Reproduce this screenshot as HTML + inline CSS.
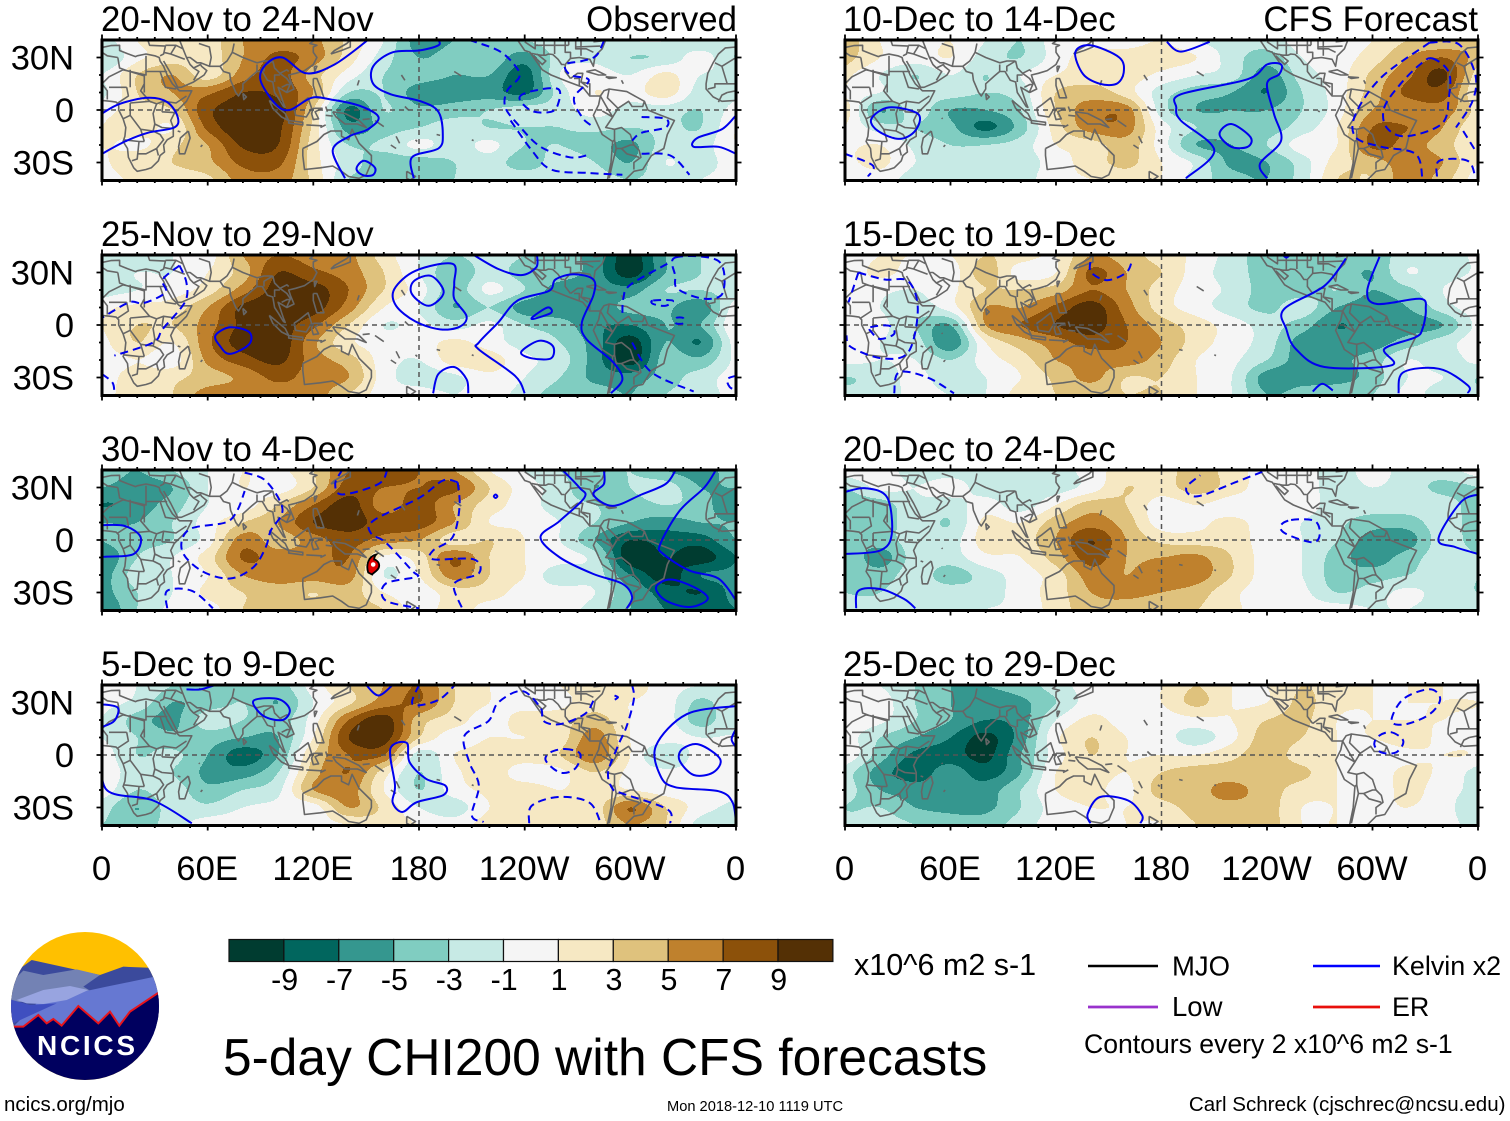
<!DOCTYPE html>
<html lang="en"><head><meta charset="utf-8"><title>5-day CHI200 with CFS forecasts</title>
<style>
html,body{margin:0;padding:0;background:#fff}
svg{display:block}
text{font-family:"Liberation Sans",Arial,sans-serif;fill:#000}
</style></head>
<body>
<svg id="figure" xmlns="http://www.w3.org/2000/svg" width="1510" height="1121" viewBox="0 0 1510 1121">
<rect width="1510" height="1121" fill="#fff"/>
<g id="maps"></g>
<g id="colorbar"></g>
<text x="854" y="975" font-size="30.5">x10^6 m2 s-1</text>
<text x="223" y="1075" font-size="51.5">5-day CHI200 with CFS forecasts</text>
<g>
<line x1="1088" x2="1158" y1="966" y2="966" stroke="#000" stroke-width="2.5"/>
<text x="1172" y="975.5" font-size="27.5">MJO</text>
<line x1="1313" x2="1380" y1="966" y2="966" stroke="#0000ff" stroke-width="2.5"/>
<text x="1392" y="975" font-size="26.9">Kelvin x2</text>
<line x1="1088" x2="1158" y1="1007" y2="1007" stroke="#9932cc" stroke-width="2.8"/>
<text x="1172" y="1016" font-size="27.5">Low</text>
<line x1="1313" x2="1380" y1="1007" y2="1007" stroke="#e8100c" stroke-width="2.8"/>
<text x="1392" y="1016" font-size="26.9">ER</text>
<text x="1084" y="1053" font-size="26.6">Contours every 2 x10^6 m2 s-1</text>
</g>
<g>
<clipPath id="logo-clip"><circle cx="85" cy="1006" r="74"/></clipPath>
<g clip-path="url(#logo-clip)">
<rect x="10" y="931" width="150" height="150" fill="#ffc000"/>
<g transform="translate(0,920) scale(0.3333)">
<polygon points="20,175 95,120 300,165 370,140 490,145 490,400 20,400" fill="#3b4a9c"/>
<polygon points="20,200 70,152 130,165 230,148 300,165 250,200 270,212 120,240 20,250" fill="#7382b4"/>
<polygon points="40,320 120,240 250,215 320,200 465,170 490,230 490,400 40,400" fill="#6678d2"/>
<polygon points="50,240 130,210 210,198 265,210 200,240 130,252 80,250" fill="#98a4e0"/>
<polygon points="20,235 90,255 170,250 50,305 20,320" fill="#3f4fc0"/>
<polygon points="30,320 70,320 115,285 140,310 160,297 185,317 235,258 295,310 330,275 358,317 390,275 480,215 490,500 20,500" fill="#00005f"/>
<polyline points="30,320 70,320 115,285 140,310 160,297 185,317 235,258 295,310 330,275 358,317 390,275 480,215" fill="none" stroke="#e8141c" stroke-width="6"/>
</g>
<text x="37" y="1055" font-size="28" font-weight="700" textLength="98" lengthAdjust="spacing" style="fill:#fff">NCICS</text>
</g>
</g>
<text x="4" y="1111" font-size="20.5">ncics.org/mjo</text>
<text x="667" y="1111" font-size="14.65">Mon 2018-12-10 1119 UTC</text>
<text x="1505.5" y="1111" font-size="20.55" text-anchor="end">Carl Schreck (cjschrec@ncsu.edu)</text>
</svg>
<script>
// ---- axis and colour data ----
const fieldLons=[0,20,40,60,80,100,120,140,160,180,200,220,240,260,280,300,320,340];
const fieldLats=[40,30,20,10,0,-10,-20,-30,-40];
const levelEdges=[-9,-7,-5,-3,-1,1,3,5,7,9];
const levelColors=['#003c30','#01665e','#35978f','#80cdc1','#c7eae5','#f5f5f5','#f6e8c3','#dfc27d','#bf812d','#8c510a','#543005'];
const lonTickValues=[0,60,120,180,240,300,360];
const lonTickLabels=['0','60E','120E','180','120W','60W','0'];
const latTickValues=[30,0,-30];
const latTickLabels=['30N','0','30S'];

// ---- CHI200 anomaly, rows = fieldLats, columns = fieldLons ----
const chiNov20=[
[-2,1,2,2,5,6,5.5,2.5,-1,-6,-5,-4,-3,-2,-2,-1,-1,-3],
[-3,.5,2,2,5,7.5,6,2,-2,-5,-4,-3.5,-6,-2,-1.5,-3,-2.5,0],
[-1,3,5,2,6,8,4,0,-3,-4,-5,-5,-8,-1,0,-1,1.5,-1],
[-1.5,3,5,6.5,9,8.5,5,-3,-3,-6,-6,-6,-7.5,-2,1,0,2,-2],
[0,2,3,8.5,10,10,3,-7.5,-3,-4.5,-4,-3,-2,-2,0,-2,-2,-3],
[1,2,1,7.5,10.5,9.5,2.5,-6,-4,-3,-2,-3,-3,-3,-2.5,-3,-2.5,-3],
[1,.5,2.5,5,9.3,9,2,-3,-2.5,-.5,-2,-.5,-3,-3,-4,-5.5,-2,-2],
[.5,2.5,3,4.5,7.5,7.5,2,-2,-4,-4,-3,-2,-4,-2,-3,-5,-1,-2],
[0,1.5,2,2.5,6,6,2.5,-3,-3,-4,-3,-2,-1.5,-2,-2,-3,-2,-1]];
const chiNov25=[
[-2,-3,-1,0,5,7,6,5.5,2,-1,-3,-2,-3,-4,-6,-10,-5,-3],
[-2.5,-1,-1,1,4,9,7.5,6,3,-1,-4.5,-2,-4,-4,-6,-10,-5,-3],
[-2,-1,0,2,6,10,10,7,3,0,-4,-.5,-3,-6,-6,-6,-3,-3],
[0,1.5,2,5,9.5,10.5,10,6,1,-1,-5,-3,-6,-6.5,-6,-4.5,-4.5,-6.5],
[1,3,3,6,9.5,10,7.5,3,-1,-.5,-2,-.5,-3,-4,-6.5,-7,-5,-5],
[0,3,1,6.5,10,10.5,5.5,1.5,0,0,1.5,0,-2,-3,-6,-10,-5,-7],
[-.5,1,0,5.5,8,9.5,6,4,0,-1,2,2,-.5,-2,-6,-10,-4,-4.5],
[0,2,2.5,4,5.5,7.5,6,5,0,-2,-1.5,.5,-1,-3,-5.5,-6,-4,-2],
[0,2.5,3,6,6,6,6,3,0,0,-1,0,-2,-4,-4,-5,-3,-2]];
const chiNov30=[
[-4,-5,-3,-1,1,.5,3,7,8,7,5,1,-1,-3,-4,-3,-5,-6],
[-5,-6,-5,-1,1,0,3,8,7,7,7.5,3,0,-2,-5,-3,-2,-5],
[-7,-6,-4,-1,0,3,7,10,6,8,5,2,0,-2,-3,-4,-3,-4],
[-5,-5,-3,0,3,5,9,10,8,8,5,1,.5,-1,-3,-5,-6,-5],
[-5,-4,-3,0,6,4,6,8,6,5,2,3,1,-1,-5,-9,-8,-8],
[-7,-3,-1,2,7.2,6,6,7,.5,2,7,3,1,0,-2,-10.5,-9,-10],
[-6,-2,-1,1,5,6,6,6,-1,1,6,3,1,-2.5,-2,-7,-10,-7],
[-6,-3,-1,1.5,3,4,3,4,1,0,2,2,0,0,-1,-5,-8,-9],
[-7,-3,-.5,0,3,4,4,4,3,0,2,0,0,0,-2,-5,-7,-7]];
const chiDec05=[
[-1,-1,-3,-4,-4,-4,0,3,5,7,3,1,0,1,2,2,0,-1],
[-1,-1.5,-5,-4,-3,-5,-1,2.5,6,7,3,1,0,.5,2,1,0,-3.5],
[-1,-4,-5.5,-2,-3,-4,0,7,10,4,2,0,2,2,4,1,0,-4],
[-1,-3,-4.5,-4,-5,-5,1,9,10,3,0,1,1,2,6,1,0,-1],
[0,-3,-2.5,-5,-8,-5,3,7,7,-2,1,2,2,3,6.5,1,-3,0],
[0,-2,-3,-5.5,-6,-3,4,7,2,-3,.5,2,0,.5,3,.5,-.5,0],
[0,-3,-2,-4.5,-3,-1.5,5,6,1,-3,0,1.5,2,1,2,1,0,0],
[-2,-5,-2,-2.5,-1,-.5,0,5,2.5,-1,-2,1,2,2,2,7,3,0],
[-3,-4,-2,0,0,-.5,0,1,2,1,0,2,2,1,2,5,3,-2]];
const chiDec10=[
[4,1,0,1,-1,-3,0,0,0,1,-1,-2,-2,0,0,1,3,3],
[4,1,0,1,-2,-3,0,2,2,2,1,-2,-4,-1,0,2,5,7],
[2,-1,-3,-1,-3,-1,1,2,2,.5,-1,-2,-6,-2,0,3.5,6.5,9.5],
[1,-1,-2,-2,-3,-2,3,4,2,-2,-4,-5,-7,-3,0,4,7.5,8],
[2,-5,-2,-5,-5,-3,3,6,6,-2,-5,-5,-5,-3,0,5,5.5,6],
[1,-2,-3,-4.5,-7.5,-4,2,6,6,0,-3,-4,-4,-2,1,7,7,5],
[1,1,-1.5,-3,-3,-2,1,2,4,0,-5,-5,-3,0,1,7.5,6,4],
[1,1.5,-1,-2,-2,-2,0,2,3.5,1,-1.5,-5.5,-5,-2,2,4,6,5],
[0,0,-2,-2,-2,-2,.5,1,2,1,-2,-4,-5,-2,3,3,6,4]];
const chiDec15=[
[-.5,1,1,1,3,2,1,5,4,2,.5,-2,-4,-4,-3,-4,-2,-2],
[-.5,1.5,0,0,4,0,1,7.5,5,3,0,-2,-4,-5,-4,-5,-1,-2],
[1,-.5,-1,.5,3,3,4,7,5,2,0,-1.5,-4,-4,-3,-5,-3.5,-1],
[0,-1,-2,0,5,5,7.5,10,6,2,0,-2,-3.5,-2,-5,-6,-5,-2],
[-.5,-.5,-3,-5,5,7,9,10,7,4,2,0,-2,-4,-7,-6,-6,-5],
[0,-1,-2,-6.5,1,4,6,8,7,5,2,0,-2,-6,-6,-6,-4,-2],
[-.5,-1,-1,-3,0,2,5,5.5,6,4,1,-.5,-3,-6,-5.5,-4,-1,-2],
[-3,-2,-.5,-2,-1,1,3.5,5.5,3,3,1,-1,-6,-6,-6,-4,-1,-1],
[-2.5,-2,-.5,-1,-1,2,3,3.5,3,3,1,-1,-5,-4,-3,-3,-.5,-2]];
const chiDec20=[
[0,0,-2,-2,-2,-2,-2,0,2,2,4,2,0,0,-2,0,-2,-2],
[-3,-.5,-1,0,-2,-2,-2,0,3,2,4,2,0,0,-2,-1,-2,-3.5],
[-4,-4,-1.5,-2,0,-2,1,4,3,0,1,0,0,0,-2,-2,-2,-2],
[-4,-4,-2,-3,1.5,1,4,6,4,0,.5,1.5,0,-1,-2.5,-4,-4,-2],
[-4,-4,-2,-2,2,2,5,9,5,2.5,2,2,0,-1,-3,-6,-6,-2],
[-3,-6,-2,-2,.5,1,4,8,5,5,5.5,3,0,-1,-4,-6,-4,-2],
[-3,-4,-2,-4,-2,0,2,6,5,6,6,3,0,-1,-4,-4,-3,-2],
[-3,-3,-2,-2,-2,0,2,5,5.5,5,4,1.5,0,-.5,-3,-2,-.5,-2],
[-2,-3,-2,-2,-1,-.5,2,4,4,3,3,1.5,0,0,0,-1,-1,-2]];
const chiDec25=[
[0,-1,-3,-5,-5,-4,-2,0,0,1,3,1,1,3,2,1,1,1],
[1,0,-3,-5,-6,-5.5,-3,0,0,1,3.5,1,1,3.5,1.5,1,1,1],
[.5,-.5,-3,-5,-7,-6,-1,1.5,0,0,.5,1,3,3.5,1,1,1,1],
[0,-3,-5,-7,-9.6,-6,.5,3,1,0,-2,.5,4,3,1,1,2,.5],
[.5,-4,-7.5,-8,-9.6,-5,0,3,1,1,1,2.5,4,2,1,-.5,.5,1],
[-2,-6,-8,-6,-8,-5,1,2,1,3,4,4,4,3.5,1,0,1.5,.5],
[-2,-5,-6,-6,-6,-3,1,1.5,.5,4,4.5,5.5,4,2,1,0,1.5,0],
[-3,-3,-5,-5.5,-5.5,-3,0,1,1,2,4,4.5,4,1,1,.5,1,0],
[-2,-2,-3,-4,-4,-2,0,0,1,1,3,4,4,1,1,0,.5,0]];

// ---- Kelvin contours as [lon,lat]; a repeated first point closes the curve ----
const kelvinPosNov20=[
[[0,-2],[10,3.5],[26,7],[37,4.5],[43,-4],[41,-10],[26,-13],[13,-18],[0,-25]],
[[151,40],[132,26],[116,21],[102.5,30],[93,26],[90,17],[98.5,3.5],[106.5,0],[119,7],[130,6],[146,2.5],[157,-4],[151,-11],[140.5,-15],[131,-23],[138,-39]],
[[191,40],[191,37],[180,34],[165,33],[154,25],[154,15],[164,9],[181,5],[191,-1],[193.5,-14],[191,-22],[176,-27],[177,-39]],
[[145,-32],[149,-29],[155,-33],[154,-37],[149,-37.5],[145,-35],[145,-32]],
[[360,-3],[352,-11],[338,-16],[336,-21],[350,-21],[360,-25]]];
const kelvinNegNov20=[
[[208.5,40],[225,34],[234,26],[237,19],[230,11],[229,1.5],[236,-8],[249,-21],[265.6,-27],[275,-26]],
[[237,7],[245,11],[259,12],[259,3.5],[255,-1],[244,-.5],[237,7]],
[[232,-6],[244,-23],[255,-34],[276.5,-36],[295.5,-37]],
[[285,39.5],[280.6,31],[272.5,28],[263,26],[266,20],[276.5,17],[268,7],[272.5,-4],[278,-9]],
[[306.4,-4],[320,-5],[320,-10],[306.4,-13],[301,-17.5]],
[[306.4,-25],[322.7,-26],[333.6,-37]]];
const kelvinPosNov25=[
[[211,40],[225,32],[238,28.5],[246.6,33],[247,40]],
[[199,35],[200,24],[200,15],[207,5],[203,-1],[192,-2.5],[178,2],[167,11],[166,20.5],[178,31],[199,35]],
[[187,28],[194,18.6],[185.5,11],[176,17.6],[177,25],[187,28]],
[[240,-39],[234.5,-29],[214,-14],[214,-10],[225,1.5],[236,14],[253.8,19.5],[257.5,26],[268,29],[279,26],[279,17],[272.5,1.5],[275,-8],[290,-21],[295.5,-31],[289,-39]],
[[245,5],[253,10],[255,7],[245,3.5],[245,5]],
[[248,-9],[256,-12],[255,-19],[244,-19],[238,-15.5],[248,-9]],
[[72.6,-1.3],[83.5,-4],[83.5,-11],[72.6,-16.5],[67,-12],[64.4,-6],[72.6,-1.3]],
[[188,-39],[191,-28],[200,-24],[207,-31],[208,-39]]];
const kelvinNegNov25=[
[[44,34],[34.5,26],[36,18.6],[23.6,12.5],[15.5,13],[.5,4.4]],
[[44,34],[48,24],[47,13],[34.5,-2.3],[29,-10],[7,-17.5]],
[[325.5,38.5],[350,36.6],[352.6,18.6],[342,15],[327,20.5],[325.5,28],[325.5,38.5]],
[[321,35],[300,23],[296,15],[295.5,5]],
[[301,-10],[312,-27],[336,-38]],
[[313,14],[324,14],[320,11],[313,12],[313,14]],
[[326,4],[330,4],[330,1],[326,1],[326,4]],
[[360,-29],[355,-31],[356.5,-35.5],[360,-37]],
[[0,-28],[6,-33],[7,-39]]];
const kelvinPosNov30=[
[[0,8.5],[13,8],[22,1.5],[18,-8],[3,-9.5],[0,-9.5]],
[[285,40],[285,32],[279,26],[290,19.5],[306.4,26],[320,32],[325.5,39.5]],
[[261.5,40],[271,30],[274,24.3],[260,11],[249,1.5],[260,-10],[279,-19.4],[295.5,-25],[301,-32.6],[298,-39]],
[[348.6,40],[342,30],[328,16.7],[317,-2.3],[318.7,-8],[333.6,-17.5],[350,-22],[360,-34.5]],
[[322.7,-22.6],[336.3,-27],[344,-33.6],[333.6,-38.3],[320,-34.5],[314.6,-27],[322.7,-22.6]],
[[223.5,26],[224.5,25],[223.5,24],[222.5,25],[223.5,26]]];
const kelvinNegNov30=[
[[81,38.5],[93,33.8],[102.5,17.6],[95.8,5.3],[93,-4],[86,-15.5],[72.6,-22],[56.3,-17.5],[45.4,-6],[49.5,6],[70,10],[76.7,16.7],[81,28]],
[[162,40],[157,32],[136.5,26],[132.4,32],[136,39.5]],
[[202,33],[193.6,34],[180,24],[154,11],[153,3.4],[161,-1.3],[176,-17.5],[178.6,-21],[161,-25],[161,-34.5],[180,-39]],
[[202,33],[203,18.6],[199,1.5],[188,-6],[188,-11],[211,-11],[214,-19],[200,-25],[204.5,-39]],
[[37,-39],[37,-29],[51,-29],[63,-39]]];
const kelvinPosDec05=[
[[0,29],[9,27],[7,19.5],[0,16]],
[[86,31],[100,32],[106.6,26],[102.5,20],[91.6,22.4],[86,31]],
[[48,37.5],[56,37.5],[64.4,40]],
[[150,40],[157,34],[165,40]],
[[173,7],[174.6,-4],[184,-13.6],[195,-17.5],[193.6,-23],[178.6,-27],[170.5,-32.6],[165,-27],[166.4,-17.5],[163.7,3.4],[173,7]],
[[0,-.4],[3,-20.3],[29,-26],[51,-39]],
[[360,28],[332,23.3],[314.6,5.3],[317,-11.8],[325.5,-18.4],[350,-20.7],[358,-27],[360,-39]],
[[339,6],[351,-2.3],[347,-10],[336,-11.4],[328,-3.2],[329.5,3.4],[339,6]],
[[360,15],[357.5,9],[360,4.4]]];
const kelvinNegDec05=[
[[301,40],[302,32],[298,16.7],[293,5.3],[287.4,-10],[290,-19.4],[295.5,-22],[321,-31],[322.7,-39]],
[[279,31],[274,23.3],[260,17.6],[250.7,19.5],[249,27],[238.5,36.6],[225,30],[219.5,19.5],[205.8,11],[208.5,-4],[214,-17.5],[210,-34.5],[216.7,-38.3]],
[[263,3.4],[271.6,.6],[268.4,-8],[260,-10],[252,-3.2],[254.6,1.5],[263,3.4]],
[[242.5,-39],[244,-29],[259,-24],[276.5,-27],[283.3,-39]],
[[180,40],[176,30],[181,28.5],[192,32],[200.4,40]],
[[291,34],[293,33],[291,31.5]]];
const kelvinPosDec10=[
[[25,1.5],[41.6,-2.3],[40,-11.8],[30.7,-16.5],[18.5,-11.8],[15,-5],[25,1.5]],
[[131,33],[139.5,37],[156,30],[158.5,21.4],[154.4,15],[145,15],[135.4,20.5],[131,33]],
[[183,39],[191,33.4],[207.4,39]],
[[193.9,-39],[210,-23],[191,-6],[188.4,1.5],[191,9],[229,17.6],[240,26],[248,26],[247,20.5],[240,15],[244,-2.3],[248,-17.5],[236,-30.7],[240,-39]],
[[219.7,-8],[230.6,-15.5],[229,-21],[219.7,-21],[213,-13.7],[219.7,-8]]];
const kelvinNegDec10=[
[[334,29.5],[343.4,21.6],[343.4,7],[339.3,-8],[319,-15],[308,-10],[306.7,1.5],[316,15],[327,26],[334,29.5]],
[[332.5,38.5],[305,18.6],[290.4,-2.3],[290.4,-15.5],[305,-21],[324.4,-25],[328.4,-39]],
[[332.5,38.5],[349,37.6],[358.4,20.5],[357,5.3],[347.5,-10]],
[[351.6,-12],[358.4,-23]],
[[336.6,-38],[338,-29],[354,-29],[358.4,-38]],
[[0,-25],[15.8,-31.7],[13,-38]]];
const kelvinPosDec15=[
[[304,39],[297,19.5],[302.6,12],[327,15],[330.3,9],[328.4,-2.3],[324.4,-7],[306.7,-13.7],[310.8,-23],[272.7,-24],[256.4,-13.7],[251,-2.3],[249.6,9],[272.7,22.4],[284.9,38]],
[[314.8,-39],[317.5,-27],[337.9,-25],[354.2,-34.5],[354.2,-39]],
[[266,-38],[271.4,-33.6],[277.4,-37.4]],
[[249,40],[251,38.5],[253,40]]];
const kelvinNegDec15=[
[[7.6,30],[22.5,26],[36,25],[41.4,9],[36,-15.5],[21,-19],[3.5,-12.7],[.8,-6]],
[[7.6,30],[2,13]],
[[139.5,36],[140,30],[149,25.6],[160,30],[163.4,37.6]],
[[28,-39],[30.7,-27],[47,-30],[62,-39]],
[[14.4,-1.3],[25,-.4],[28,-5],[20,-8],[15,-4],[14.4,-1.3]]];
const kelvinPosDec20=[
[[0,27.5],[11.7,29.6],[24,24.3],[26.6,3.4],[20,-6],[0,-8]],
[[6.3,-39],[7.6,-29],[20,-28],[33.4,-33.6],[40,-39]],
[[360,26],[350,21.4],[337.5,.6],[347,-4],[360,-8]]];
const kelvinNegDec20=[
[[237.3,39],[224,33.8],[200.7,25],[194,29.6],[202,37]],
[[253.7,11.4],[267,11],[270,3.4],[266,-1.3],[251,3.4],[247.7,8],[253.7,11.4]]];
const kelvinPosDec25=[
[[139.5,-39],[138,-33.6],[145,-24],[161,-26],[169,-34.5],[168,-39]]];
const kelvinNegDec25=[
[[332.5,37.6],[338.5,32],[332.5,23.3],[319,17.6],[310.8,19.5],[317.5,32],[332.5,37.6]],
[[310.8,13],[317.5,8],[313.4,1.5],[305,1.5],[301,6],[303.7,11],[310.8,13]]];

// ---- coastlines and borders as [lon,lat] ----
const coastLines=[
[[0,5.5],[5,5],[8,4.5],[9.5,3],[9.5,0],[12,-5],[13.5,-10],[13,-15],[12,-18],[14.5,-22],[15,-27],[18,-33],[20,-35],[25,-34],[28,-33],[32,-29],[33,-26],[35.5,-24],[35,-20],[37,-17],[40.5,-15],[40.5,-10],[39,-6],[41,-2],[44,1],[48,5],[51,11],[44,11],[43,12],[40,15],[37,20],[35,25],[33,28],[32.5,30],[30,31],[25,32],[20,31],[19,30.5],[15,32],[10,34],[10,37],[5,36.8],[0,35.7]],
[[35,28],[39,21],[43,13],[45,13],[52,16],[58,20],[59.5,22.5],[56.5,25],[56,26],[52,24],[50,26],[48,30],[50,30],[54,27],[56,27],[61,25],[67,25],[69,22],[72.5,21],[73,17],[76,10],[77.5,8],[80,12],[80,15],[85,19.5],[88,22],[91,22],[94,17],[97,16],[98,10],[100,7],[103,2],[104,1.5],[103,4],[100,13],[105,10],[109,12],[107,17],[106,20],[110,21],[115,22.5],[120,26],[122,30],[120,33],[120,36],[122,37],[118,38],[121,40]],
[[26,40],[27,37],[36,36.5],[35,32],[33,31]],
[[49,-12],[50,-16],[47,-25],[44,-25],[43.5,-21],[44.5,-16],[49,-12]],
[[114,-22],[122,-18],[126,-14],[130,-12],[136,-12],[136,-15],[140,-17],[142,-11],[146,-19],[153,-26],[153,-30],[150,-37],[146,-39],[140,-38],[136,-35],[131,-32],[124,-33],[115,-34],[114,-26],[114,-22]],
[[95,5.5],[104,-2],[106,-6],[102,-4],[97,1],[95,5.5]],
[[106,-6],[114,-7],[114,-8.5],[106,-7.5],[106,-6]],
[[109,1],[112,3],[117,7],[119,1],[116,-4],[110,-3],[109,1]],
[[120,1],[125,1],[121,-1],[123,-5],[120,-5.5],[119,-2],[120,1]],
[[131,-1],[138,-2],[146,-6],[150,-10],[145,-8],[138,-8],[133,-4],[131,-1]],
[[120,18],[122,18],[124,13],[126,7],[122,7],[120,14],[120,18]],
[[130,32],[136,34],[141,36],[141,40],[139,38],[132,34],[130,32]],
[[120.5,25],[122,25],[120.8,22],[120.5,25]],
[[80,9.5],[82,7.5],[80.5,6],[80,9.5]],
[[173,-35],[178,-38],[175,-40],[173,-39],[173,-35]],
[[236,40],[240,34],[243,33],[250,23],[255,20],[265,16],[273,13],[277,8],[280,8],[283,8],[285,11],[288,12],[298,10.5],[308,5],[310,0],[316,-2.5],[325,-6],[321,-14],[319,-22],[312,-26],[307,-34],[302,-35],[298,-39],[297,-40]],
[[283,8],[282,3],[279,-3],[284,-14],[290,-18],[289,-30],[287,-40]],
[[245,31],[250,26],[252,28],[247,32]],
[[266,18],[270,21],[273,21],[272,16],[277,15],[277,10]],
[[266,18],[263,22],[263,26],[266,29.5],[271,30],[277,29],[279,25],[280,31],[284,35],[286,40]],
[[275,22],[280,23],[286,20],[282,20],[275,22]],
[[286,19],[292,18.5],[288,18],[286,19]],
[[360,5.5],[352,5],[347,7.5],[343,12],[343,15],[344,21],[347,27],[350,32],[354,35.5],[360,36]]];
const borderLines=[
[[12,23],[25,20],[25,31]],[[25,22],[37,22]],[[9,30],[10,24],[14,22.5],[24,19.5],[24,15],[22,11],[27,5],[31,3.5],[35,5],[42,4],[48,8]],
[[0,15],[4,19],[12,23]],[[3,6],[3,11],[0,15]],[[14,13],[15,8],[9,4]],[[14,13],[4,13]],[[16,4],[16,-3],[12,-5]],
[[16,-3],[22,-11],[29,-12],[30,-8],[29,-2],[31,3.5]],[[24,-18],[21,-18],[12,-17]],[[21,-18],[20,-28],[17,-29]],[[30,-8],[34,-10],[40,-10.5]],
[[34,-1],[41,-1.5]],[[35,5],[34,-1]],[[24,15],[24,10]],[[33,22],[36,13],[42,12]],[[22,-11],[24,-18]],[[29,-12],[33,-14],[35,-17],[31,-22],[25,-25],[20,-25]],[[31,-22],[32,-26]],
[[9,30],[3,31],[0,33]],[[16,23],[16,13]],[[16,4],[27,5]],
[[36,37],[42,37],[46,35],[48,30]],[[35,33],[39,32],[42,37]],[[39,32],[47,29]],[[52,17],[55,22],[52,24]],[[44,40],[46,35]],[[61,25],[62,30],[61,36],[55,38]],
[[67,25],[71,28],[74,33],[75,38]],[[74,33],[80,30],[88,27],[92,28],[97,28]],[[88,22],[88,26]],[[92,22],[92,25],[97,28]],[[97,28],[98,24],[101,21],[105,23],[106,22]],
[[101,21],[105,18],[107,15],[105,10.5]],[[98,16],[98,20],[101,20]],[[102,13],[105,14.5],[107,14.5]],
[[243,32.5],[249,31.3],[252,31.3],[253.5,32],[256,31.7],[259,29],[261,26],[262.5,26]],[[240,39],[246,35],[246,41]],[[246,37],[265,37]],[[251,41],[251,31]],[[257,41],[257,32]],
[[263,40],[263,33],[266,33],[266,29]],[[265,37],[265,41]],[[269,41],[269,35],[275,35],[279,33]],[[269,36],[283,36.5]],[[272,31],[272,41]],[[279,39],[285,39.6]],[[246,41],[240,41]],
[[268,18],[271,18],[271,14]],[[272,16],[276,13]],[[277,11],[277,8.5]],
[[283,8],[287,1],[290,-4],[284,-.5]],[[288,12],[287,7],[293,1],[290,-4]],[[293,1],[299,5],[301,2],[307,2],[308,5]],[[290,-4],[286,-10],[291,-11],[291,-17],[290,-18]],
[[291,-11],[295,-10],[300,-14],[302,-20],[305,-23],[306,-27],[302,-30],[302,-34]],[[291,-17],[292,-22],[295,-22],[300,-20],[302,-20]],[[292,-22],[290,-30],[288,-39]],[[295,-22],[298,-25],[305,-27]],
[[360,15],[355,15],[348,15],[348,13],[344,12]],[[355,10],[352,8.5],[350,4.5]],[[355,15],[352,25],[348,27]],[[355,10],[360,11]],[[352,25],[360,30]]];
const islandLines=[
[[155,-6],[160,-9.5]],[[167,-15],[169,-19]],[[164,-20],[167,-22]],[[178,-17],[179,-18]],[[200,22],[204,19.5]],[[269,-.5],[270,-1]],
[[57,-20],[56,-21]],[[55,-4.5],[55.5,-5]],[[145,14],[146,17]],[[148,-5.5],[152,-5]],[[116,-8.5],[125,-9]],[[124,-10],[127,-8.5]],[[127,2],[128,-1]],[[127,-3],[131,-3.5]],
[[43,-12],[44.5,-12.5]],[[172,2],[174,0]],[[190,-14],[192,-14.5]],[[210,-17],[211,-17.5]],[[170,20],[172,17]],[[295,17],[296,15]]];

// ---- scene description ----
const panelTitles=['20-Nov to 24-Nov','25-Nov to 29-Nov','30-Nov to 4-Dec','5-Dec to 9-Dec','10-Dec to 14-Dec','15-Dec to 19-Dec','20-Dec to 24-Dec','25-Dec to 29-Dec'];
const panelFields=[chiNov20,chiNov25,chiNov30,chiDec05,chiDec10,chiDec15,chiDec20,chiDec25];
const panelKelvinPos=[kelvinPosNov20,kelvinPosNov25,kelvinPosNov30,kelvinPosDec05,kelvinPosDec10,kelvinPosDec15,kelvinPosDec20,kelvinPosDec25];
const panelKelvinNeg=[kelvinNegNov20,kelvinNegNov25,kelvinNegNov30,kelvinNegDec05,kelvinNegDec10,kelvinNegDec15,kelvinNegDec20,kelvinNegDec25];
const colorbarLabels=['-9','-7','-5','-3','-1','1','3','5','7','9'];

const NS='http://www.w3.org/2000/svg';
function mk(tag,parent,attrs){const e=document.createElementNS(NS,tag);for(const k in attrs)e.setAttribute(k,attrs[k]);parent.appendChild(e);return e;}
const PH=140,DEGY=PH/80;
function xAxis(x0,w){return lon=>x0+lon*w/360;}
function yAxis(y0){return lat=>y0+(40-lat)*DEGY;}
function cr(a,b,c,d,t){return b+.5*t*(c-a+t*(2*a-5*b+4*c-d+t*(3*(b-c)+d-a)));}
function sample(g,lon,lat){
  const nx=fieldLons.length,ny=fieldLats.length,step=fieldLons[1]-fieldLons[0],sy=fieldLats[0]-fieldLats[1];
  const fx=lon/step,fy=(fieldLats[0]-lat)/sy;
  const i=Math.floor(fx),j=Math.min(Math.floor(fy),ny-2),tx=fx-i,ty=fy-j;
  const rowv=r=>{const R=g[Math.max(0,Math.min(ny-1,r))];const w=k=>R[((k%nx)+nx)%nx];return cr(w(i-1),w(i),w(i+1),w(i+2),tx);};
  return cr(rowv(j-1),rowv(j),rowv(j+1),rowv(j+2),ty);
}
function levelOf(v){let k=0;while(k<levelEdges.length&&v>=levelEdges[k])k++;return k;}
function linePath(pts,X,Y){return pts.map((p,i)=>(i?'L':'M')+X(p[0]).toFixed(1)+' '+Y(p[1]).toFixed(1)).join('');}
function smoothPath(pts,X,Y){
  let P=pts.map(p=>[X(p[0]),Y(p[1])]);
  const closed=pts.length>2&&pts[0][0]===pts[pts.length-1][0]&&pts[0][1]===pts[pts.length-1][1];
  if(closed)P=P.slice(0,-1);
  const n=P.length,at=i=>closed?P[(i+n)%n]:P[Math.max(0,Math.min(n-1,i))];
  let d='M'+P[0][0].toFixed(1)+' '+P[0][1].toFixed(1);
  const segs=closed?n:n-1;
  for(let i=0;i<segs;i++){
    const a=at(i-1),b=at(i),c=at(i+1),e=at(i+2);
    d+='C'+(b[0]+(c[0]-a[0])/6).toFixed(1)+' '+(b[1]+(c[1]-a[1])/6).toFixed(1)+' '+(c[0]-(e[0]-b[0])/6).toFixed(1)+' '+(c[1]-(e[1]-b[1])/6).toFixed(1)+' '+c[0].toFixed(1)+' '+c[1].toFixed(1);
  }
  return d+(closed?'Z':'');
}
const maps=document.getElementById('maps');
panelTitles.forEach((title,idx)=>{
  const col=idx<4?0:1,row=idx%4;
  const PW=col?633:634;
  const x0=col?845:102,y0=40+row*215,X=xAxis(x0,PW),Y=yAxis(y0);
  const g=mk('g',maps,{});
  
  
  const clip=mk('clipPath',g,{id:'clip-'+idx});
  mk('rect',clip,{x:x0,y:y0,width:PW,height:PH});
  const inner=mk('g',g,{'clip-path':'url(#clip-'+idx+')'});
  // filled contours
  const paths=levelColors.map(()=>[]);
  const cell=1;
  for(let py=0;py<PH;py+=cell){
    const lat=40-(py+cell/2)/DEGY;let start=0,cur=-1;
    for(let px=0;px<=PW;px+=cell){
      const lv=px<PW?levelOf(sample(panelFields[idx],Math.min(359.9,(px+cell/2)*360/PW),lat)):-2;
      if(lv!==cur){
        if(cur>=0)paths[cur].push('M'+(x0+start)+' '+(y0+py)+'h'+(px-start)+'v'+cell+'h'+(start-px)+'z');
        cur=lv;start=px;
      }
    }
  }
  paths.forEach((p,k)=>{
    if(!p.length)return;
    const el=mk('path',inner,{d:p.join(''),fill:levelColors[k],'shape-rendering':'crispEdges'});
    
    
  });
  // coast, borders
  const coast=mk('path',inner,{d:coastLines.concat(borderLines,islandLines).map(l=>linePath(l,X,Y)).join(''),fill:'none',stroke:'#666','stroke-width':1.6,'stroke-linejoin':'round'});
  
  
  // reference lines
  const eq=mk('line',inner,{x1:x0,x2:x0+PW,y1:Y(0),y2:Y(0),stroke:'#555','stroke-width':1.5,'stroke-dasharray':'5 4'});
  
  
  const dl=mk('line',inner,{x1:X(180),x2:X(180),y1:y0,y2:y0+PH,stroke:'#555','stroke-width':1.5,'stroke-dasharray':'5 4'});
  
  
  // Kelvin contours
  panelKelvinPos[idx].forEach(c=>{
    const el=mk('path',inner,{d:smoothPath(c,X,Y),fill:'none',stroke:'#0000ee','stroke-width':2});
    
    
  });
  panelKelvinNeg[idx].forEach(c=>{
    const el=mk('path',inner,{d:smoothPath(c,X,Y),fill:'none',stroke:'#0000ee','stroke-width':2,'stroke-dasharray':'8 5'});
    
    
  });
  // frame
  const fr=mk('rect',g,{x:x0,y:y0,width:PW,height:PH+.5,fill:'none',stroke:'#000','stroke-width':3});
  
  
  // ticks
  let t='';
  for(let lon=0;lon<=360;lon+=10){const L=lon%60===0?5.5:3;t+='M'+X(lon).toFixed(1)+' '+y0+'v'+(-L)+'M'+X(lon).toFixed(1)+' '+(y0+PH)+'v'+L;}
  for(let lat=-30;lat<=30;lat+=10){const L=lat%30===0?5.5:3;t+='M'+x0+' '+Y(lat)+'h'+(-L)+'M'+(x0+PW)+' '+Y(lat)+'h'+L;}
  const ticks=mk('path',g,{d:t,stroke:'#000','stroke-width':1.8,fill:'none'});
  
  
  // titles
  const tt=mk('text',g,{x:x0-(col?2:1),y:y0-9,'font-size':34.8});
  tt.textContent=title;
  
  
  if(row===0){
    const rt=mk('text',g,{x:x0+PW+(col?0:1),y:y0-9,'font-size':34.8,'text-anchor':'end'});
    rt.textContent=col?'CFS Forecast':'Observed';
    
    
  }
  if(col===0){
    latTickValues.forEach((v,k)=>{
      const lt=mk('text',g,{x:74,y:Y(v)+12,'font-size':34.5,'text-anchor':'end'});
      lt.textContent=latTickLabels[k];
      
      
    });
  }
  if(row===3){
    lonTickValues.forEach((v,k)=>{
      const lt=mk('text',g,{x:X(v)-.5,y:880,'font-size':34.7,'text-anchor':'middle'});
      lt.textContent=lonTickLabels[k];
      
      
    });
  }
});
// cyclone marker
const cyX=xAxis(102,634)(154),cyY=yAxis(470)(-14);
const cy=mk('g',maps,{transform:'translate('+cyX.toFixed(1)+','+cyY.toFixed(1)+')'});


mk('path',cy,{d:'M3 -10C-6 -8 -7 2 -5 8L-1 10C0 8 6 6 6 1C6 -3 2 -5 1 -5C1 -7 2 -9 3 -10Z',fill:'#e00000',stroke:'#000','stroke-width':1.8});
mk('circle',cy,{cx:0,cy:0,r:2.6,fill:'#fff',stroke:'#e00000','stroke-width':.6});
// colorbar
const cbG=document.getElementById('colorbar');
const cbX=v=>229+(v+1)*54.9;
levelColors.forEach((c,k)=>{
  const r=mk('rect',cbG,{x:cbX(k-1).toFixed(1),y:939.5,width:54.9,height:22,fill:c,stroke:'#111','stroke-width':1.2});
  
  
});
colorbarLabels.forEach((s,k)=>{
  const tx=mk('text',cbG,{x:(cbX(k)+.7).toFixed(1),y:990,'font-size':30.4,'text-anchor':'middle'});
  tx.textContent=s;
  
  
});
</script>
</body></html>
